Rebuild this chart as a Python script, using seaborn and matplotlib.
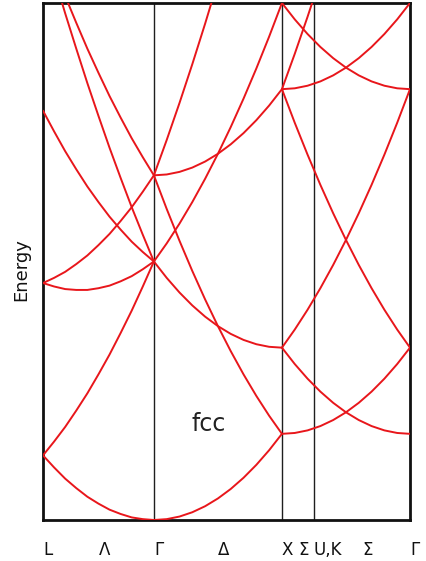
import numpy as np
import pandas as pd
import matplotlib
matplotlib.use("Agg")
import matplotlib.pyplot as plt
import seaborn as sns

# ---- data ----
sym_labels = ["L", "Λ", "Γ", "Δ", "X", "Σ", "U,K", "Σ", "Γ"]
sym_pos = [0.0, 0.433, 0.866, 1.366, 1.866, 1.991, 2.116, 2.491, 2.866]
vline_pos = [0.866, 1.866, 2.116]

# sample grid along each path segment (fraction of the segment)
frac = [0.0, 0.1, 0.2, 0.3, 0.4, 0.5, 0.6, 0.7, 0.8, 0.9, 1.0]
seg_start = {"LG": 0.0, "GX": 0.866, "XG": 1.866}
seg_len = {"LG": 0.866, "GX": 1.0, "XG": 1.0}

N = None
bands_LG = [
    [0.75, 0.61, 0.48, 0.37, 0.27, 0.19, 0.12, 0.07, 0.03, 0.01, 0.00],
    [0.75, 0.91, 1.08, 1.27, 1.47, 1.69, 1.92, 2.17, 2.43, 2.71, 3.00],
    [2.75, 2.71, 2.68, 2.67, 2.67, 2.69, 2.72, 2.77, 2.83, 2.91, 3.00],
    [2.75, 2.81, 2.88, 2.97, 3.07, 3.19, 3.32, 3.47, 3.63, 3.81, 4.00],
    [4.75, 4.51, 4.28, 4.07, 3.87, 3.69, 3.52, 3.37, 3.23, 3.11, 3.00],
    [N, N, 6.08, 5.77, 5.47, 5.19, 4.92, 4.67, 4.43, 4.21, 4.00],
    [N, 6.31, 5.88, 5.47, 5.07, 4.69, 4.32, 3.97, 3.63, 3.31, 3.00],
]
bands_GX = [
    [0.00, 0.01, 0.04, 0.09, 0.16, 0.25, 0.36, 0.49, 0.64, 0.81, 1.00],
    [4.00, 3.61, 3.24, 2.89, 2.56, 2.25, 1.96, 1.69, 1.44, 1.21, 1.00],
    [3.00, 2.81, 2.64, 2.49, 2.36, 2.25, 2.16, 2.09, 2.04, 2.01, 2.00],
    [3.00, 3.21, 3.44, 3.69, 3.96, 4.25, 4.56, 4.89, 5.24, 5.61, 6.00],
    [4.00, 4.01, 4.04, 4.09, 4.16, 4.25, 4.36, 4.49, 4.64, 4.81, 5.00],
    [4.00, 4.41, 4.84, 5.29, 5.76, 6.25, N, N, N, N, N],
]
bands_XG = [
    [1.00, 1.01, 1.04, 1.09, 1.16, 1.25, 1.36, 1.49, 1.64, 1.81, 2.00],
    [2.00, 1.81, 1.64, 1.49, 1.36, 1.25, 1.16, 1.09, 1.04, 1.01, 1.00],
    [2.00, 2.21, 2.44, 2.69, 2.96, 3.25, 3.56, 3.89, 4.24, 4.61, 5.00],
    [5.00, 4.61, 4.24, 3.89, 3.56, 3.25, 2.96, 2.69, 2.44, 2.21, 2.00],
    [5.00, 5.01, 5.04, 5.09, 5.16, 5.25, 5.36, 5.49, 5.64, 5.81, 6.00],
    [6.00, 5.81, 5.64, 5.49, 5.36, 5.25, 5.16, 5.09, 5.04, 5.01, 5.00],
    [5.00, 5.41, 5.84, 6.29, N, N, N, N, N, N, N],
]

# ---- build long table ----
rows = []
for key, bands in (("LG", bands_LG), ("GX", bands_GX), ("XG", bands_XG)):
    for i, vals in enumerate(bands):
        for f, e in zip(frac, vals):
            if e is None:
                continue
            rows.append({"k": seg_start[key] + f * seg_len[key], "E": e,
                         "band": f"{key}{i}"})
df = pd.DataFrame(rows)

sns.set_theme(style="white")
plt.rcParams["font.family"] = ["DejaVu Sans"]

fig = plt.figure(figsize=(4.27, 5.61), dpi=100)
ax = fig.add_axes([43 / 427, 41 / 561, 367 / 427, 517 / 561])

red = "#e8161b"
sns.lineplot(data=df, x="k", y="E", units="band", estimator=None, sort=False,
             color=red, linewidth=1.4, ax=ax, zorder=3, legend=False)

for xv in vline_pos:
    ax.axvline(xv, color="#1e1e1e", linewidth=1.0, zorder=2)

ax.set_xlim(0, 2.866)
ax.set_ylim(0, 6)
ax.set_yticks([])
ax.set_xticks(sym_pos)
ax.set_xticklabels(sym_labels, fontsize=12, ha="left", color="#111111")
ax.tick_params(axis="x", length=0, pad=15)
ax.set_xlabel("")
ax.set_ylabel("Energy", fontsize=13, color="#111111")
ax.yaxis.set_label_coords(-0.036, 0.485)

for sp in ax.spines.values():
    sp.set_visible(True)
    sp.set_color("#111111")
    sp.set_linewidth(2.0)

ax.text(1.296, 1.114, "fcc", fontsize=17, ha="center", va="center", color="#222222")

fig.savefig("out.png", dpi=100)
